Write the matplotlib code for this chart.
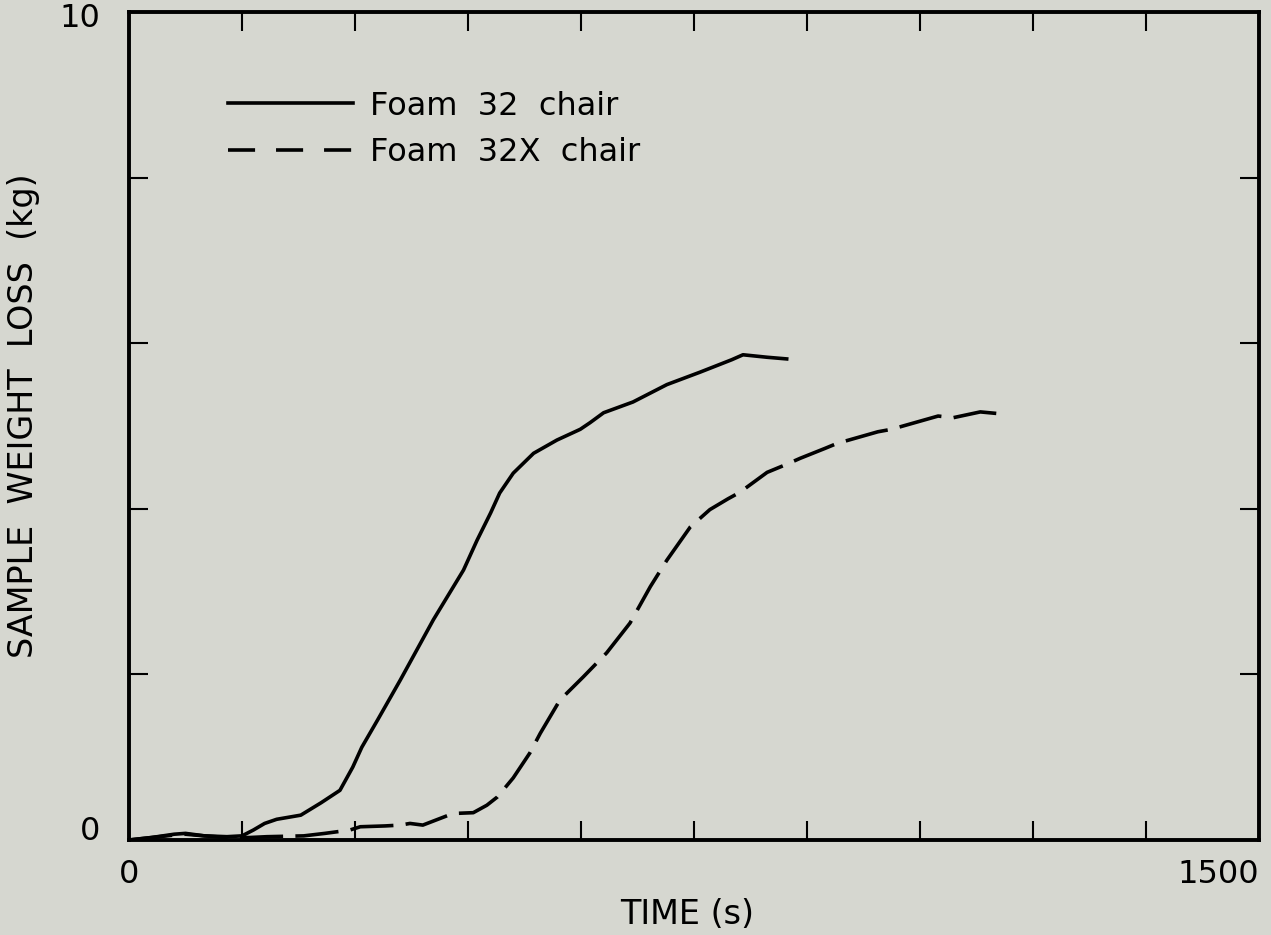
import matplotlib
matplotlib.use("Agg")
import matplotlib.pyplot as plt
from matplotlib.lines import Line2D

plt.rcParams['font.family'] = ['DejaVu Sans']

# Foam 32 chair (solid)
t_32 = [0, 30, 60, 75, 100, 130, 150, 165, 180, 196, 228, 255, 280, 297, 309,
        330, 360, 404, 444, 462, 480, 492, 510, 537, 568, 599, 612, 630, 669,
        714, 758, 800, 815, 847, 873]
w_32 = [0, 0.03, 0.07, 0.08, 0.05, 0.04, 0.05, 0.12, 0.2, 0.25, 0.3, 0.45,
        0.6, 0.88, 1.12, 1.45, 1.93, 2.66, 3.26, 3.62, 3.95, 4.19, 4.43, 4.67,
        4.83, 4.96, 5.04, 5.16, 5.29, 5.50, 5.65, 5.80, 5.86, 5.83, 5.81]

# Foam 32X chair (dashed)
t_32x = [0, 30, 60, 75, 100, 130, 160, 183, 232, 260, 293, 307, 340, 360, 373,
         390, 410, 430, 457, 475, 489, 510, 532, 546, 572, 603, 634, 665, 692,
         714, 745, 771, 795, 811, 847, 871, 891, 924, 940, 994, 1012, 1074,
         1094, 1130, 1165]
w_32x = [0, 0.03, 0.06, 0.07, 0.05, 0.03, 0.03, 0.04, 0.05, 0.08, 0.12, 0.16,
         0.17, 0.18, 0.2, 0.18, 0.25, 0.32, 0.33, 0.42, 0.52, 0.75, 1.05, 1.29,
         1.69, 1.97, 2.26, 2.62, 3.06, 3.38, 3.78, 3.99, 4.12, 4.20, 4.44, 4.53,
         4.61, 4.73, 4.79, 4.93, 4.96, 5.12, 5.10, 5.17, 5.14]

labels = ['Foam  32  chair', 'Foam  32X  chair']
x_ticks = list(range(0, 1501, 150))
y_ticks = [0, 2, 4, 6, 8, 10]

bg = '#d6d7d0'
lw = 2.6
fig = plt.figure(figsize=(12.71, 9.35), dpi=100, facecolor=bg)
ax = fig.add_axes([0.1015, 0.1016, 0.8891, 0.8856])
ax.set_facecolor(bg)

ax.plot(t_32, w_32, color='black', lw=lw)
ax.plot(t_32x, w_32x, color='black', lw=lw, dashes=(12, 3.4))

ax.set_xlim(0, 1500)
ax.set_ylim(0, 10)
ax.set_xticks(x_ticks)
ax.set_yticks(y_ticks)
ax.set_xticklabels(['0'] + [''] * 9 + ['1500'])
ax.set_yticklabels(['0', '', '', '', '', ''])
ax.get_xticklabels()[-1].set_horizontalalignment('right')
ax.get_yticklabels()[0].set_verticalalignment('baseline')
ax.tick_params(direction='in', length=14, width=1.5, labelsize=23,
               top=True, right=True, color='black')
ax.tick_params(axis='x', pad=14)
ax.tick_params(axis='y', pad=21)
for s in ax.spines.values():
    s.set_linewidth(2.8)

# top label "10" sits a little below its tick in the original
ax.annotate('10', xy=(0, y_ticks[-1]), xytext=(-21, -5),
            textcoords='offset points', ha='right', va='center', fontsize=23)

ax.set_xlabel('TIME (s)', fontsize=24)
ax.xaxis.label.set_va('center')
ax.xaxis.set_label_coords(0.494, -0.0894)
ax.set_ylabel('SAMPLE  WEIGHT  LOSS  (kg)', fontsize=24)
ax.yaxis.label.set_va('center')
ax.yaxis.set_label_coords(-0.093, 0.512)

handles = [Line2D([], [], color='black', lw=lw),
           Line2D([], [], color='black', lw=lw, dashes=(7.5, 5.8))]
ax.legend(handles, labels, loc='upper left', bbox_to_anchor=(0.0876, 0.905),
          frameon=False, fontsize=23, handlelength=3.9, handletextpad=0.53,
          labelspacing=0.49, borderpad=0, borderaxespad=0)

fig.savefig('out.png', dpi=100, facecolor=bg)
